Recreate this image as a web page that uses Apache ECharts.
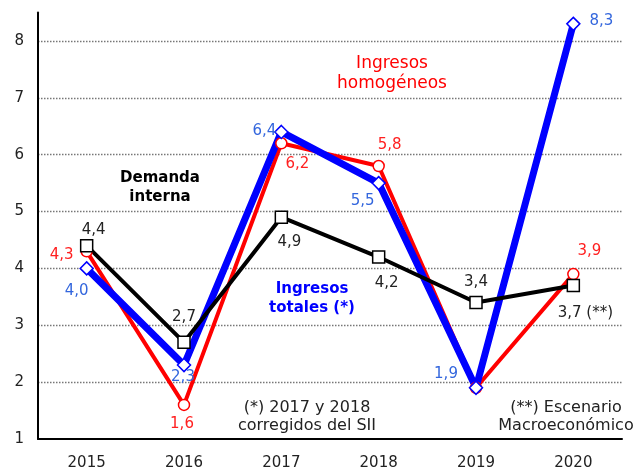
<!DOCTYPE html>
<html>
<head>
<meta charset="utf-8">
<script src="https://cdn.jsdelivr.net/npm/echarts@6/dist/echarts.min.js"></script>
<style>html,body{margin:0;padding:0;background:#fff}#c{width:637px;height:471px}</style>
</head>
<body>
<div id="c"></div>
<script>
const categories = ['2015', '2016', '2017', '2018', '2019', '2020'];
const ingresosHomogeneos = [4.3, 1.6, 6.2, 5.8, 1.9, 3.9];
const ingresosTotales = [4.0, 2.3, 6.4, 5.5, 1.9, 8.3];
const demandaInterna = [4.4, 2.7, 4.9, 4.2, 3.4, 3.7];
const yTicks = [1, 2, 3, 4, 5, 6, 7, 8];

// label placement (pixel offsets from each point), styling only
const redOffsets = [[-25, 4], [-2, 19], [16, 21], [11, -21], null, [16, -23]];
const blueOffsets = [[-10, 23], [-1, 12], [-17, -1], [-16, 18], [-30, -14], [28, -3]];
const blackOffsets = [[7, -16], [0, -25], [8, 25], [8, 26], [0, -20], [12, 28]];

const FONT = '"DejaVu Sans", Verdana, sans-serif';
const fmt = v => v.toFixed(1).replace('.', ',');

function buildData(values, offsets, color, suffix) {
  return values.map((v, i) => {
    const off = offsets[i];
    if (!off) return { value: v, label: { show: false } };
    return {
      value: v,
      label: {
        show: true, position: 'inside', offset: off,
        formatter: fmt(v) + (suffix && i === values.length - 1 ? suffix : ''),
        color: color, fontSize: 15, fontFamily: FONT
      }
    };
  });
}

const chart = echarts.init(document.getElementById('c'), null, { renderer: 'canvas' });
chart.setOption({
  animation: false,
  backgroundColor: '#fff',
  grid: { left: 38, right: 15, top: 12.5, bottom: 32, containLabel: false },
  xAxis: {
    type: 'category', data: categories, boundaryGap: true,
    axisLine: { lineStyle: { color: '#000', width: 2 } },
    axisTick: { show: false },
    axisLabel: { color: '#222', fontSize: 15, fontFamily: FONT, margin: 17 },
    splitLine: { show: false }
  },
  yAxis: {
    type: 'value', min: yTicks[0], max: 8.5, interval: 1,
    axisLine: { show: true, lineStyle: { color: '#000', width: 2 } },
    axisTick: { show: false },
    axisLabel: { color: '#222', fontSize: 15, fontFamily: FONT, margin: 14, showMaxLabel: false,
      formatter: v => (yTicks.indexOf(v) >= 0 ? String(v) : '') },
    splitLine: { show: true, showMaxLine: false, showMinLine: false,
      lineStyle: { color: '#777', width: 1.3, type: [1.5, 1.5] } }
  },
  series: [
    {
      name: 'Ingresos homogéneos', type: 'line', data: buildData(ingresosHomogeneos, redOffsets, '#ff2020'),
      symbol: 'circle', symbolSize: 11,
      lineStyle: { color: '#ff0000', width: 4 },
      itemStyle: { color: '#fff', borderColor: '#ff0000', borderWidth: 1.5 }
    },
    {
      name: 'Ingresos totales', type: 'line', data: buildData(ingresosTotales, blueOffsets, '#3366dd'),
      symbol: 'diamond', symbolSize: 13,
      lineStyle: { color: '#0000ff', width: 7 },
      itemStyle: { color: '#fff', borderColor: '#0000ff', borderWidth: 1.5 }
    },
    {
      name: 'Demanda interna', type: 'line', data: buildData(demandaInterna, blackOffsets, '#222', ' (**)'),
      symbol: 'rect', symbolSize: 12,
      lineStyle: { color: '#000', width: 4 },
      itemStyle: { color: '#fff', borderColor: '#000', borderWidth: 1.5 }
    }
  ],
  graphic: [
    { type: 'text', x: 392, y: 74, style: { text: 'Ingresos\nhomogéneos', fill: '#ff0000', font: '17px ' + FONT, textAlign: 'center', textVerticalAlign: 'middle', lineHeight: 20 } },
    { type: 'text', x: 160, y: 188, style: { text: 'Demanda\ninterna', fill: '#000', font: 'bold 15px ' + FONT, textAlign: 'center', textVerticalAlign: 'middle', lineHeight: 19 } },
    { type: 'text', x: 312, y: 299, style: { text: 'Ingresos\ntotales (*)', fill: '#0000ff', font: 'bold 15px ' + FONT, textAlign: 'center', textVerticalAlign: 'middle', lineHeight: 19 } },
    { type: 'text', x: 307, y: 417, style: { text: '(*) 2017 y 2018\ncorregidos del SII', fill: '#222', font: '16px ' + FONT, textAlign: 'center', textVerticalAlign: 'middle', lineHeight: 18 } },
    { type: 'text', x: 566, y: 417, style: { text: '(**) Escenario\nMacroeconómico', fill: '#222', font: '16px ' + FONT, textAlign: 'center', textVerticalAlign: 'middle', lineHeight: 18 } }
  ]
});
</script>
</body>
</html>
